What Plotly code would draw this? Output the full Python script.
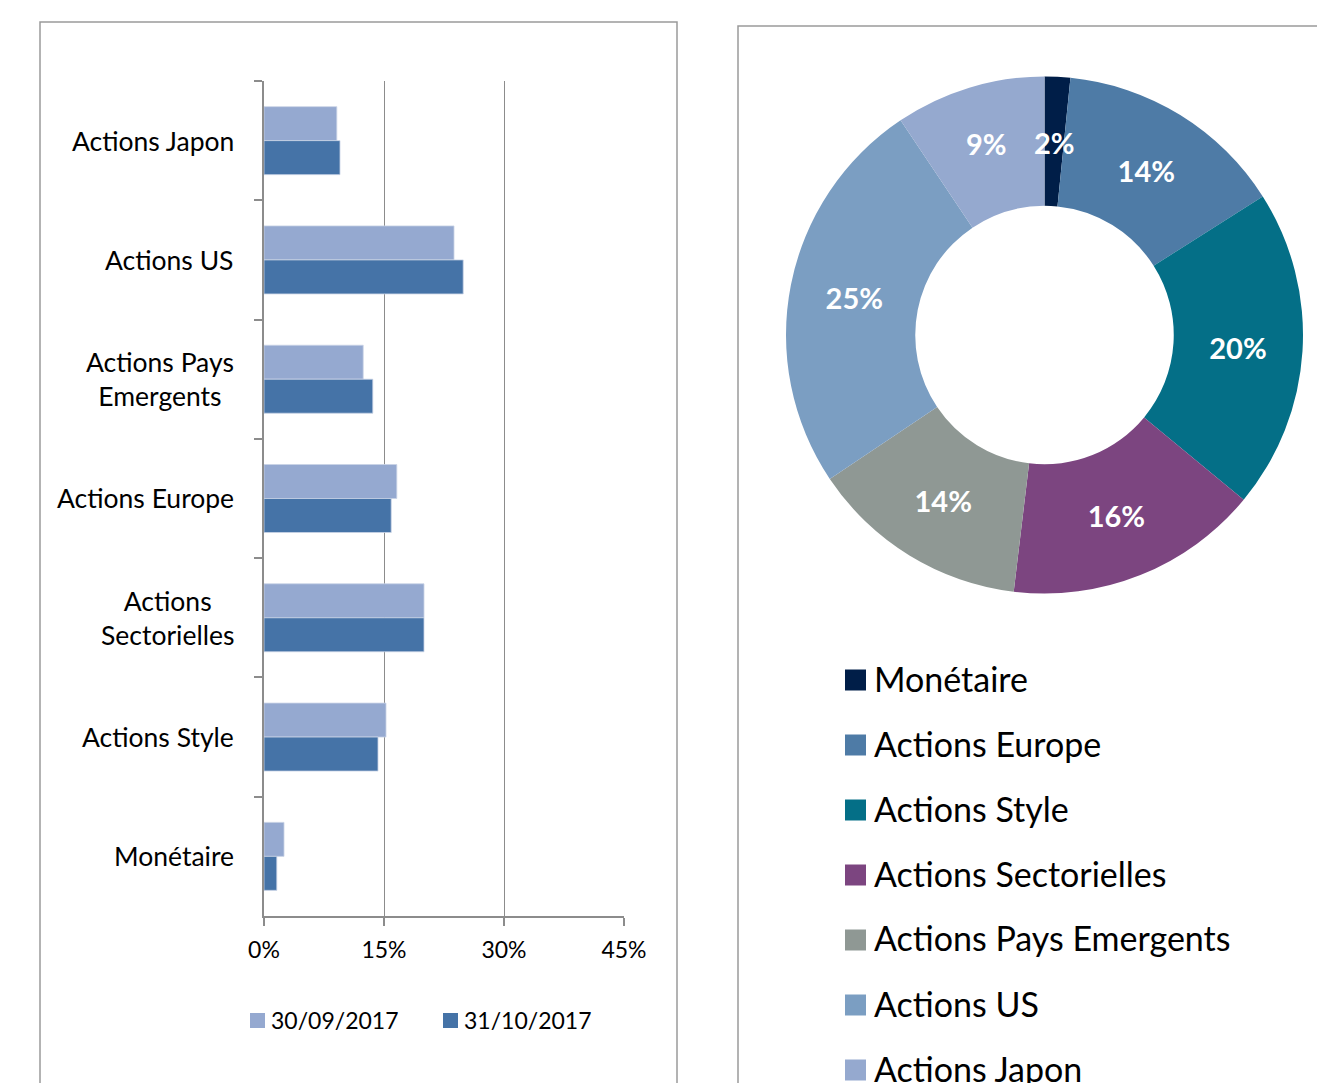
import plotly.graph_objects as go

W, H = 1317, 1083

# ---------------- data ----------------
categories = ["Actions Japon", "Actions US", "Actions Pays Emergents", "Actions Europe",
              "Actions Sectorielles", "Actions Style", "Monétaire"]
category_labels = ["Actions Japon", "Actions US", "Actions Pays<br>Emergents", "Actions Europe",
                   "Actions<br>Sectorielles", "Actions Style", "Monétaire"]
values_sep = [9.1, 23.75, 12.4, 16.6, 20.0, 15.25, 2.5]
values_oct = [9.5, 24.9, 13.6, 15.9, 20.0, 14.25, 1.6]
series_names = ["30/09/2017", "31/10/2017"]
x_ticks = [0, 15, 30, 45]
x_tick_labels = ["0%", "15%", "30%", "45%"]

pie_labels = ["Monétaire", "Actions Europe", "Actions Style", "Actions Sectorielles",
              "Actions Pays Emergents", "Actions US", "Actions Japon"]
pie_values = [1.6, 14.4, 20.0, 15.9, 13.7, 25.0, 9.4]

# ---------------- styles ----------------
bar_colors = ["#95A9D0", "#4573A7"]
pie_colors = ["#001E48", "#4E7BA6", "#046F87", "#7C4580", "#8F9894", "#7B9EC2", "#95A9CF"]
FONT = "Lato, Carlito, Calibri, sans-serif"
GREY = "#8c8c8c"


def px(x):
    return x / W


def py(y):
    return 1 - y / H


fig = go.Figure()

for name, vals, col in zip(series_names, [values_sep, values_oct], bar_colors):
    fig.add_trace(go.Bar(
        y=categories, x=vals, name=name, orientation="h",
        marker=dict(color=col, line=dict(color="#c9d3e6", width=0.8)),
        showlegend=False,
    ))

total = sum(pie_values)
small_label = f"{round(pie_values[0] / total * 100)}%"
fig.add_trace(go.Pie(
    labels=pie_labels, values=pie_values, hole=0.5, sort=False, direction="clockwise",
    rotation=0, marker=dict(colors=pie_colors, line=dict(color="white", width=0)),
    texttemplate="%{percent:.0%}",
    textposition=["none"] + ["inside"] * (len(pie_values) - 1),
    insidetextorientation="horizontal",
    textfont=dict(family=FONT, size=29, color="white", weight="bold"),
    domain=dict(x=[px(786), px(1303)], y=[py(594), py(76)]),
    showlegend=False,
))

annotations = []
shapes = []

# small slice label (too narrow for inside placement)
annotations.append(dict(x=px(1054), y=py(143), xref="paper", yref="paper", text=small_label,
                        showarrow=False, xanchor="center", yanchor="middle",
                        font=dict(family=FONT, size=29, color="white", weight="bold")))

# category labels
for i, lab in enumerate(category_labels):
    annotations.append(dict(
        x=px(236), y=i, xref="paper", yref="y", text=lab, showarrow=False,
        xanchor="right", yanchor="middle", align="center",
        font=dict(family=FONT, size=26.5, color="#000000"),
    ))

# bar legend
bar_leg = [(250, 269), (443, 462)]
for (sx, tx), name, col in zip(bar_leg, series_names, bar_colors):
    shapes.append(dict(type="rect", xref="paper", yref="paper",
                       x0=px(sx), x1=px(sx + 15), y0=py(1028), y1=py(1013),
                       fillcolor=col, line=dict(width=0)))
    annotations.append(dict(x=px(tx), y=py(1020), xref="paper", yref="paper", text=name,
                            showarrow=False, xanchor="left", yanchor="middle",
                            font=dict(family=FONT, size=23, color="#000000")))

# pie legend
for k, (lab, col) in enumerate(zip(pie_labels, pie_colors)):
    cy = 680 + 65 * k
    shapes.append(dict(type="rect", xref="paper", yref="paper",
                       x0=px(845), x1=px(866), y0=py(cy + 10.5), y1=py(cy - 10.5),
                       fillcolor=col, line=dict(width=0)))
    annotations.append(dict(x=px(872), y=py(cy - 2), xref="paper", yref="paper", text=lab,
                            showarrow=False, xanchor="left", yanchor="middle",
                            font=dict(family=FONT, size=34, color="#000000")))

# panel borders
shapes.append(dict(type="rect", xref="paper", yref="paper", x0=px(40), x1=px(677),
                   y0=py(1100), y1=py(22), line=dict(color="#9a9a9a", width=1.5)))
shapes.append(dict(type="rect", xref="paper", yref="paper", x0=px(738), x1=px(1340),
                   y0=py(1100), y1=py(26), line=dict(color="#9a9a9a", width=1.5)))

fig.update_layout(
    width=W, height=H, autosize=False,
    margin=dict(l=0, r=0, t=0, b=0, pad=0, autoexpand=False),
    paper_bgcolor="white", plot_bgcolor="white",
    barmode="group", bargap=0.43, bargroupgap=0,
    font=dict(family=FONT, color="#000000"),
    xaxis=dict(domain=[px(264), px(624)], range=[0, 45], tickvals=x_ticks,
               ticktext=x_tick_labels, showgrid=True, gridcolor=GREY, gridwidth=1,
               zeroline=False, showline=True, linecolor=GREY, linewidth=1.5,
               ticks="outside", ticklen=8, tickcolor=GREY, tickwidth=1.5,
               ticklabelstandoff=5, tickfont=dict(family=FONT, size=23, color="#000000"),
               fixedrange=True, automargin=False),
    yaxis=dict(domain=[py(916), py(81)], categoryorder="array", categoryarray=categories,
               autorange="reversed", showticklabels=False, showline=True, linecolor=GREY,
               linewidth=1.5, ticks="outside", ticklen=8, tickcolor=GREY, tickwidth=1.5,
               tickson="boundaries", showgrid=False, zeroline=False, fixedrange=True,
               automargin=False),
    annotations=annotations, shapes=shapes,
)

fig.write_html(
    "out.html",
    config={"displayModeBar": False},
    post_script="document.body.style.margin='0';document.body.style.overflow='hidden';",
)
